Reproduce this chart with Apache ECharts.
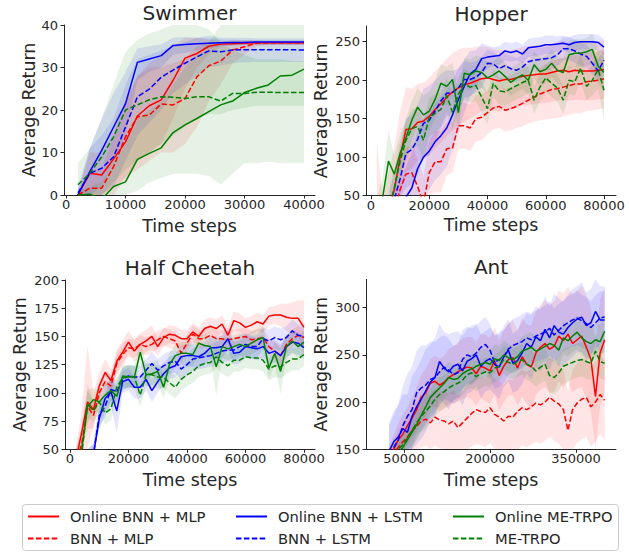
<!DOCTYPE html>
<html>
<head>
<meta charset="utf-8">
<script src="https://cdn.jsdelivr.net/npm/echarts@6/dist/echarts.min.js"></script>
<style>html,body{margin:0;padding:0;background:#fff}#c{width:629px;height:552px}</style>
</head>
<body>
<div id="c"></div>
<script>
// ---------- names ----------
const NAMES = ['Online BNN + MLP', 'BNN + MLP', 'Online BNN + LSTM', 'BNN + LSTM', 'Online ME-TRPO', 'ME-TRPO'];

// ---------- Swimmer ----------
const swX = [2000,4000,6000,8000,10000,12000,14000,16000,18000,20000,22000,24000,26000,28000,30000,32000,34000,36000,38000,40000];
const swRedSolid   = [0,5.1,4.7,8.5,12.5,18.6,21,22.4,27,32.2,33.3,35,35.5,35.6,35.7,35.8,35.8,35.8,35.8,35.8];
const swRedDashed  = [0,1.6,1.6,6.7,13.7,18.4,18.8,21.4,21.2,22.7,27.8,30.4,31.5,34.1,34.9,35.7,35.8,35.8,35.8,35.8];
const swBlueSolid  = [0,5.5,10.5,16,21.5,31.2,32,32.8,35.2,35.4,35.6,35.7,35.8,35.9,35.9,36,36,36,36,36];
const swBlueDashed = [0.5,5.1,6.3,9,16,23.1,24.9,27.7,29.4,31,32.5,33.9,33.7,34.1,34.2,34.2,34.2,34.2,34.2,34.1];
const swGreenSolid = [0,0.2,-1,2,3.1,8.4,9.8,11.1,14.7,16.5,18,19.6,21.2,22.1,24.1,25.1,25.9,28,28.2,29.6];
const swGreenDashed= [2.4,5.1,9,13.7,20,21.2,22.4,23.1,23,22.7,23.1,23.1,22.1,23.9,23.9,24.2,24.2,24.1,24.1,24.1];
const swRedSolidLo   = [0,0,0,2,4,8,10,12,18,25,30,33,35,35.2,35.3,35.3,35.3,35.3,35.3,35.3];
const swRedSolidHi   = [0.5,10,10,15,22,28,31,33,35,37,37,36.5,36.3,36.2,36.2,36.2,36.2,36.2,36.2,36.2];
const swRedDashedLo  = [-1,-2,-2,0,4,6,8,10,10,12,16,22,26,31,33,35,35.2,35.3,35.3,35.3];
const swRedDashedHi  = [1,6,6,14,22,28,30,30,31,32,35,36,36,36.5,36.5,36.4,36.3,36.3,36.3,36.3];
const swBlueSolidLo  = [-1,0,2,8,14,27,29,30,33,33.5,34,34.5,35,35.2,35.3,35.3,35.3,35.3,35.3,35.3];
const swBlueSolidHi  = [1,11,18,24,29,34.5,35,35.5,37,37.2,37,36.8,36.6,36.6,36.5,36.5,36.5,36.5,36.5,36.5];
const swBlueDashedLo = [-1,0,0,2,8,14,17,20,24,26,28,30,30.5,31,31.2,31.3,31.3,31.3,31.3,31.3];
const swBlueDashedHi = [2,11,14,18,26,32,33,34,35,36,37,37.5,37,37,37,36.9,36.9,36.9,36.9,36.9];
const swGreenSolidLo = [-1,-1,-3,-3,-2,1,3,4,5,5,5,4.5,2.5,5,7.5,7.5,7.8,7.5,7.5,7.5];
const swGreenSolidHi = [1,2,3,8,12,18,20,22,26,30,33,36,40,40,41,42,43,44,45,46];
const swGreenDashedLo= [-3,-2,0,3,6,8,10,12,14,16,18,19,19,20,20.5,21,21,21,21,21];
const swGreenDashedHi= [7.5,11,18,26,33.7,36.5,38,39,40,40,40,39,36,34,33,32,32,32,31.5,31.5];
const swXTicks = [0,10000,20000,30000,40000];
const swYTicks = [0,10,20,30,40];

// ---------- Hopper & Half Cheetah shared steps ----------
const x80k = [2000,4000,6000,8000,10000,12000,14000,16000,18000,20000,22000,24000,26000,28000,30000,32000,34000,36000,38000,40000,42000,44000,46000,48000,50000,52000,54000,56000,58000,60000,62000,64000,66000,68000,70000,72000,74000,76000,78000,80000];

// ---------- Hopper ----------
const hpRedSolid   = [0,10,30,58,100,136,137,145,147,153,162,169,178,185,190,194,196,199,202,203,201,199,201,201,203,205,206,207,208,208,210,212,213,211,213,212,212,212,213,214];
const hpRedDashed  = [-20,-10,10,30,58,78,80,62,40,80,94,94,111,112,141,141,138,150,152,158,164,166,161,163,166,170,174,178,182,185,188,189,191,193,195,195,198,199,200,202];
const hpBlueSolid  = [0,5,15,25,35,48,60,85,100,108,120,128,138,155,175,192,208,214,228,230,231,232,238,236,238,234,242,243,244,246,246,247,248,246,249,250,250,250,249,243];
const hpBlueDashed = [-10,0,20,45,72,105,110,123,144,148,160,173,183,184,190,201,201,204,210,222,221,215,219,215,213,217,224,226,227,228,229,233,241,241,238,234,231,222,212,226];
const hpGreenSolid = [20,48,95,78,105,125,148,165,155,160,175,196,192,201,158,209,207,212,210,203,207,212,205,197,203,207,200,220,211,214,222,213,210,233,235,235,237,240,218,210];
const hpGreenDashed= [-20,0,30,60,95,122,137,140,122,152,157,162,180,158,182,195,191,193,178,163,196,186,185,189,193,197,200,174,191,203,196,190,174,200,198,216,192,200,214,187];
const hpRedSolidSd   = [120,30,50,55,60,55,52,50,50,50,50,50,50,50,50,48,46,44,42,40,40,40,38,38,38,38,38,38,38,38,38,38,38,38,38,38,38,38,38,38];
const hpRedDashedSd  = [20,20,25,30,35,35,35,35,35,40,40,40,35,32,30,30,30,30,30,28,28,28,28,28,28,30,30,32,34,36,38,38,38,38,38,38,38,38,38,38];
const hpBlueSolidSd  = [20,20,25,30,35,40,45,50,50,50,50,50,50,45,40,35,30,25,20,15,12,12,12,12,12,12,12,12,12,12,12,10,10,10,10,10,10,10,10,10];
const hpBlueDashedSd = [20,25,30,35,40,45,45,45,45,45,40,35,30,28,26,24,22,20,20,18,16,16,16,16,16,16,16,15,15,15,15,15,15,15,15,15,15,15,15,15];
const hpGreenSolidSd = [20,25,40,25,25,25,25,25,25,25,25,25,25,22,22,20,20,20,20,20,18,18,18,18,18,18,18,18,18,18,18,18,18,18,18,18,18,20,22,25];
const hpGreenDashedSd= [20,20,25,25,25,25,25,25,25,25,25,22,22,22,22,20,20,20,20,20,18,18,18,18,18,18,18,18,18,18,18,18,18,18,18,18,18,20,25,40];
const hpXTicks = [0,20000,40000,60000,80000];
const hpYTicks = [50,100,150,200,250];

// ---------- Half Cheetah ----------
const hcRedSolid   = [40,65,92,85,106,118,111,128,136,145,137,143,146,150,141,149,152,151,148,148,154,150,157,159,157,161,151,164,162,158,160,163,161,168,169,169,167,166,166,158];
const hcRedDashed  = [35,55,88,80,100,110,106,126,134,140,139,143,141,143,147,150,148,146,135,144,152,148,148,151,148,148,147,148,149,150,147,148,149,141,137,133,143,148,151,149];
const hcBlueSolid  = [10,20,35,45,77,95,101,84,110,112,105,105,112,102,110,117,122,124,132,133,133,132,135,140,140,141,148,135,136,141,140,139,141,135,137,133,141,145,144,140];
const hcBlueDashed = [10,20,30,45,80,88,103,101,112,115,114,114,120,126,120,124,127,128,121,125,130,131,132,133,135,137,138,138,141,143,141,141,148,146,149,147,149,155,151,150];
const hcGreenSolid = [30,50,88,94,92,98,102,97,115,114,114,136,116,117,119,105,125,133,135,135,134,144,142,141,123,141,139,141,143,141,144,147,149,122,135,119,141,146,141,145];
const hcGreenDashed= [30,45,90,84,92,82,86,105,113,115,114,98,116,116,114,114,109,105,112,116,119,124,126,127,132,127,124,129,129,132,131,131,129,121,124,123,127,130,130,134];
const hcRedSolidSd   = [10,20,50,15,12,12,10,10,10,10,10,10,10,10,8,8,8,8,8,8,8,8,8,8,8,8,8,8,8,8,8,8,8,8,8,10,12,14,16,24];
const hcRedDashedSd  = [10,15,20,12,10,10,10,10,10,8,8,8,8,8,8,8,8,8,8,8,8,8,8,8,8,8,8,8,8,8,8,8,8,8,8,8,8,8,8,8];
const hcBlueSolidSd  = [5,5,5,10,10,12,12,20,10,10,10,10,10,10,10,10,10,10,10,10,10,10,10,10,10,10,10,10,10,10,10,10,10,10,10,10,10,10,10,10];
const hcBlueDashedSd = [5,5,5,10,10,10,10,10,10,10,10,10,10,10,10,10,10,10,10,10,10,10,10,10,10,10,10,10,10,10,10,10,10,10,10,10,10,10,10,10];
const hcGreenSolidSd = [10,15,15,10,10,10,10,10,10,10,10,10,10,10,10,10,10,10,10,10,10,10,10,10,25,10,10,10,10,10,10,10,10,10,10,20,10,10,10,10];
const hcGreenDashedSd= [10,10,12,10,10,10,10,10,10,10,10,10,10,10,10,10,10,10,10,10,10,10,10,10,10,10,10,10,10,10,10,10,10,10,10,10,10,10,10,10];
const hcXTicks = [0,20000,40000,60000,80000];
const hcYTicks = [50,75,100,125,150,175,200];

// ---------- Ant ----------
const antX = [24000,32000,40000,48000,56000,64000,72000,80000,88000,96000,104000,112000,120000,128000,136000,144000,152000,160000,168000,176000,184000,192000,200000,208000,216000,224000,232000,240000,248000,256000,264000,272000,280000,288000,296000,304000,312000,320000,328000,336000,344000,352000,360000,368000,376000,384000,392000,400000];
const antRedSolid   = [140,150,160,166,175,183,192,205,210,220,222,218,221,226,229,232,235,237,236,230,238,236,233,244,228,238,245,247,236,248,240,237,252,258,262,256,259,270,265,272,262,266,270,258,245,206,252,266];
const antRedDashed  = [135,145,152,158,163,170,174,180,182,178,184,181,180,177,180,173,178,183,188,192,190,189,194,187,184,180,185,184,190,194,192,195,199,197,200,205,201,198,192,170,192,199,203,205,195,200,208,202];
const antBlueSolid  = [148,158,163,172,168,185,195,203,212,221,226,243,236,232,238,240,233,243,246,250,238,243,246,240,237,248,255,241,244,252,262,258,269,265,277,268,281,274,272,279,284,288,290,281,284,296,287,287];
const antBlueDashed = [145,152,160,175,185,192,210,215,218,224,226,232,237,234,229,231,245,250,248,252,258,261,255,242,245,248,256,260,262,264,268,266,270,272,274,278,271,276,281,284,287,289,286,283,279,284,289,290];
const antGreenSolid = [135,140,147,152,160,168,176,186,195,205,210,215,220,226,224,225,230,233,235,238,240,242,240,246,244,250,247,245,248,254,256,258,254,256,259,262,260,255,268,265,270,274,268,264,262,266,264,275];
const antGreenDashed= [138,145,150,155,162,170,178,185,190,196,203,208,211,215,218,220,223,229,231,227,230,232,231,236,238,245,242,240,243,245,240,238,233,237,240,228,226,231,238,240,242,244,245,243,241,254,243,241];
const antRedSolidSd   = [15,15,18,20,20,22,23,24,25,26,27,28,28,30,30,31,32,32,33,34,34,35,35,36,37,38,38,40,40,42,42,44,44,45,46,46,48,48,50,50,52,52,54,55,55,55,56,56];
const antRedDashedSd  = [15,15,18,20,22,24,26,28,28,30,30,30,32,32,32,34,34,35,35,36,36,37,37,38,38,38,39,39,40,40,40,40,41,41,41,42,42,42,42,42,42,42,42,42,42,42,42,42];
const antBlueSolidSd  = [30,32,34,36,40,42,40,42,44,40,42,40,38,40,36,35,37,34,35,33,34,32,33,32,34,32,33,31,32,33,32,34,33,33,35,34,34,36,34,35,36,35,37,35,36,35,36,35];
const antBlueDashedSd = [30,34,38,42,45,46,44,45,42,40,38,36,34,33,31,30,31,30,30,29,28,29,28,28,29,28,27,28,28,29,28,28,27,28,28,29,28,28,27,28,28,29,28,28,28,29,28,28];
const antGreenSolidSd = [12,12,13,14,15,16,16,17,17,18,18,18,17,17,16,16,16,16,15,15,15,15,15,15,15,15,15,15,15,16,16,16,16,16,16,17,17,17,17,17,17,18,18,18,18,18,18,18];
const antGreenDashedSd= [12,12,13,14,15,16,17,17,18,18,18,18,17,17,17,16,16,16,16,16,15,15,15,15,15,15,16,16,16,16,16,17,17,17,17,18,18,18,18,18,18,18,18,18,18,18,18,18];
const antXTicks = [50000,200000,350000];
const antYTicks = [150,200,250,300];

// ---------- styling / layout ----------
const FONT = 'DejaVu Sans';
const TXT = '#262626';
const AX = '#262626';
const COLORS = ['#ff0000','#ff0000','#0000ff','#0000ff','#008000','#008000'];
const DASHED = [false,true,false,true,false,true];

function sdBand(mean, sd) {
  return {lo: mean.map((m,i)=>m - sd[i]), hi: mean.map((m,i)=>m + sd[i])};
}

const panels = [
  {title:'Swimmer', box:[64,25,251,170], xr:[-340,41850], yr:[0,40], xt:swXTicks, yt:swYTicks, yGap:27, xGap:22, x:swX,
   lines:[swRedSolid,swRedDashed,swBlueSolid,swBlueDashed,swGreenSolid,swGreenDashed],
   bands:[{lo:swRedSolidLo,hi:swRedSolidHi},{lo:swRedDashedLo,hi:swRedDashedHi},{lo:swBlueSolidLo,hi:swBlueSolidHi},{lo:swBlueDashedLo,hi:swBlueDashedHi},{lo:swGreenSolidLo,hi:swGreenSolidHi},{lo:swGreenDashedLo,hi:swGreenDashedHi}]},
  {title:'Hopper', box:[366,26,250,169.7], xr:[-1720,84120], yr:[50,270.4], xt:hpXTicks, yt:hpYTicks, yGap:37, xGap:20.5, x:x80k,
   lines:[hpRedSolid,hpRedDashed,hpBlueSolid,hpBlueDashed,hpGreenSolid,hpGreenDashed],
   bands:[sdBand(hpRedSolid,hpRedSolidSd),sdBand(hpRedDashed,hpRedDashedSd),sdBand(hpBlueSolid,hpBlueSolidSd),sdBand(hpBlueDashed,hpBlueDashedSd),sdBand(hpGreenSolid,hpGreenSolidSd),sdBand(hpGreenDashed,hpGreenDashedSd)]},
  {title:'Half Cheetah', box:[65,280,250,169.3], xr:[-1710,83760], yr:[50,200], xt:hcXTicks, yt:hcYTicks, yGap:37, xGap:22, x:x80k,
   lines:[hcRedSolid,hcRedDashed,hcBlueSolid,hcBlueDashed,hcGreenSolid,hcGreenDashed],
   bands:[sdBand(hcRedSolid,hcRedSolidSd),sdBand(hcRedDashed,hcRedDashedSd),sdBand(hcBlueSolid,hcBlueSolidSd),sdBand(hcBlueDashed,hcBlueDashedSd),sdBand(hcGreenSolid,hcGreenSolidSd),sdBand(hcGreenDashed,hcGreenDashedSd)]},
  {title:'Ant', box:[366,279.3,250,170], xr:[-16280,419770], yr:[150,330], xt:antXTicks, yt:antYTicks, yGap:37, xGap:22, x:antX,
   lines:[antRedSolid,antRedDashed,antBlueSolid,antBlueDashed,antGreenSolid,antGreenDashed],
   bands:[sdBand(antRedSolid,antRedSolidSd),sdBand(antRedDashed,antRedDashedSd),sdBand(antBlueSolid,antBlueSolidSd),sdBand(antBlueDashed,antBlueDashedSd),sdBand(antGreenSolid,antGreenSolidSd),sdBand(antGreenDashed,antGreenDashedSd)]}
];

const option = {
  animation: false,
  textStyle: {fontFamily: FONT},
  grid: [], xAxis: [], yAxis: [], series: [],
  legend: [],
  graphic: []
};

panels.forEach((p, gi) => {
  option.grid.push({left: p.box[0], top: p.box[1], width: p.box[2], height: p.box[3], containLabel: false});
  option.xAxis.push({
    type: 'value', gridIndex: gi, min: p.xr[0], max: p.xr[1],
    name: 'Time steps', nameLocation: 'middle', nameGap: p.xGap,
    nameTextStyle: {fontSize: 17.4, color: TXT, fontFamily: FONT},
    axisLine: {show: true, onZero: false, lineStyle: {color: AX, width: 1}},
    axisTick: {show: true, length: 3.5, lineStyle: {color: AX, width: 1}, customValues: p.xt},
    axisLabel: {show: true, customValues: p.xt, fontSize: 13, color: TXT, fontFamily: FONT, margin: 3, formatter: v => String(v)},
    splitLine: {show: false}
  });
  option.yAxis.push({
    type: 'value', gridIndex: gi, min: p.yr[0], max: p.yr[1],
    name: 'Average Return', nameLocation: 'middle', nameGap: p.yGap, nameRotate: 90,
    nameTextStyle: {fontSize: 17.4, color: TXT, fontFamily: FONT},
    axisLine: {show: true, onZero: false, lineStyle: {color: AX, width: 1}},
    axisTick: {show: true, length: 3.5, lineStyle: {color: AX, width: 1}, customValues: p.yt},
    axisLabel: {show: true, customValues: p.yt, fontSize: 13, color: TXT, fontFamily: FONT, margin: 6, formatter: v => String(v)},
    splitLine: {show: false}
  });
  // bands
  p.bands.forEach((b, k) => {
    const xs = p.x, lo = b.lo, hi = b.hi;
    const y0 = p.yr[0], y1 = p.yr[1];
    const cl = v => Math.max(y0, Math.min(y1, v));
    option.series.push({
      type: 'custom', xAxisIndex: gi, yAxisIndex: gi, silent: true, z: 1, clip: true,
      data: xs.map((x, i) => [x, lo[i], hi[i]]),
      encode: {x: 0, y: [1, 2]},
      renderItem: function (params, api) {
        if (params.dataIndex !== 0) return null;
        const pts = [];
        for (let i = 0; i < xs.length; i++) pts.push(api.coord([xs[i], cl(hi[i])]));
        for (let i = xs.length - 1; i >= 0; i--) pts.push(api.coord([xs[i], cl(lo[i])]));
        return {type: 'polygon', shape: {points: pts}, style: {fill: COLORS[k], opacity: 0.1}};
      }
    });
  });
  // lines
  p.lines.forEach((ln, k) => {
    option.series.push({
      type: 'line', name: NAMES[k], xAxisIndex: gi, yAxisIndex: gi,
      data: p.x.map((x, i) => [x, ln[i]]),
      symbol: 'none', symbolSize: 0, showSymbol: false, clip: true, z: 3 + k * 0.01,
      lineStyle: {color: COLORS[k], width: 1.5, type: DASHED[k] ? [5.5, 2.4] : 'solid'},
      itemStyle: {color: COLORS[k], opacity: 0},
      emphasis: {disabled: true}
    });
  });
  // title
  option.graphic.push({
    type: 'text', x: p.box[0] + p.box[2] / 2, y: p.box[1] - 12, silent: true,
    style: {text: p.title, fontSize: 20, fontFamily: FONT, fill: TXT, align: 'center', verticalAlign: 'middle', textAlign: 'center', textVerticalAlign: 'middle'}
  });
});

// legend box
option.graphic.push({
  type: 'rect', silent: true, z: 0,
  shape: {x: 22.5, y: 504.5, width: 596, height: 46, r: 3},
  style: {fill: '#ffffff', stroke: '#cccccc', lineWidth: 1}
});

const legendCols = [[NAMES[0], NAMES[1], 27], [NAMES[2], NAMES[3], 235], [NAMES[4], NAMES[5], 452]];
legendCols.forEach(c => {
  option.legend.push({
    data: [c[0], c[1]], orient: 'vertical', left: c[2], top: 509, padding: 0,
    itemWidth: 31, itemHeight: 14, itemGap: 7, selectedMode: false, z: 5,
    itemStyle: {opacity: 0},
    textStyle: {fontSize: 14.7, fontFamily: FONT, color: TXT, padding: [0, 0, 0, 6]}
  });
});

const chart = echarts.init(document.getElementById('c'), null, {renderer: 'svg'});
chart.setOption(option);
</script>
</body>
</html>
